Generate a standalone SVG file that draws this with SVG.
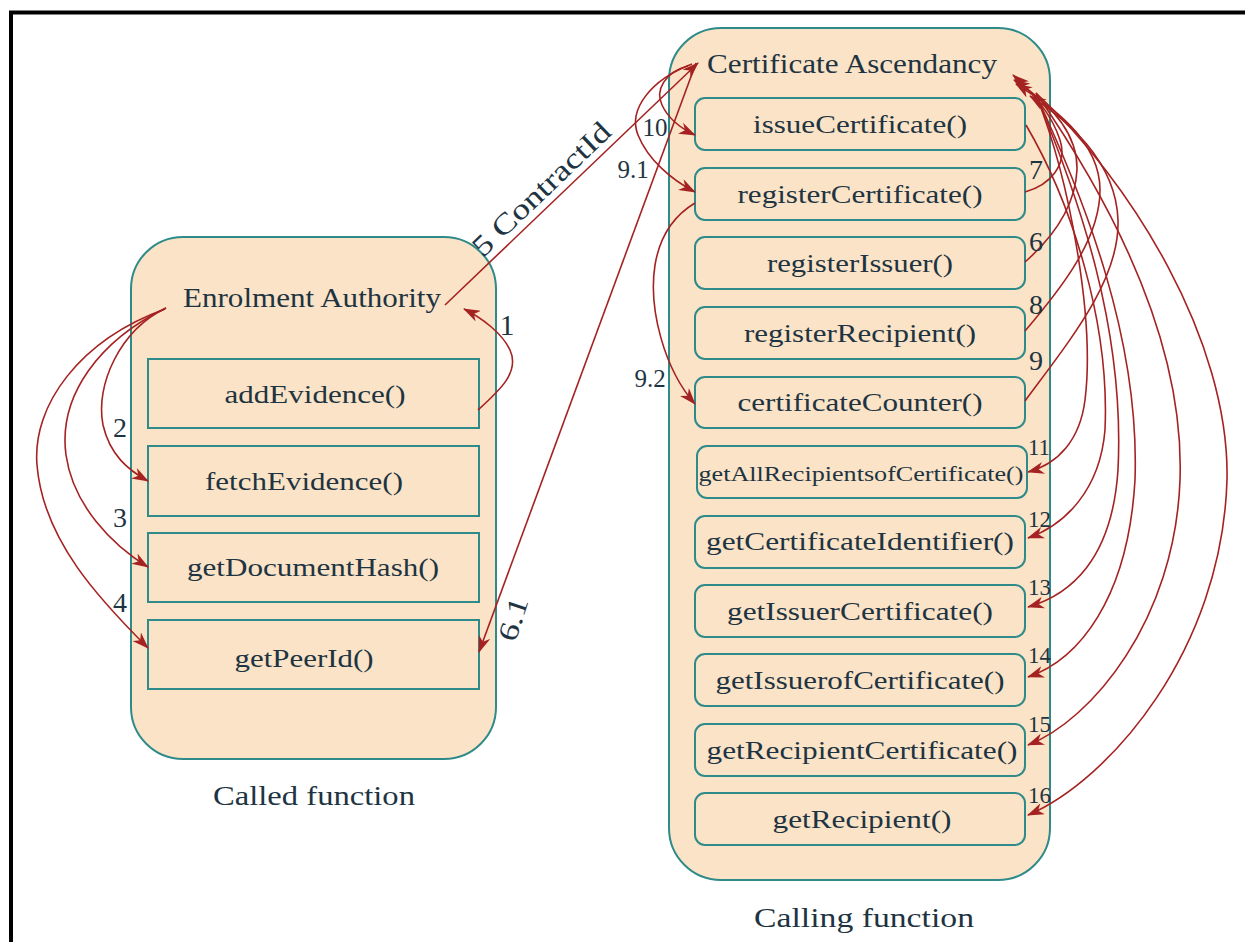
<svg xmlns="http://www.w3.org/2000/svg" width="1245" height="942" viewBox="0 0 1245 942">
<style>
.frame{fill:none;stroke:#000;stroke-width:4}
.cont{fill:#fae3c6;stroke:#2e8b89;stroke-width:2}
.box{fill:#fae3c6;stroke:#2e8b89;stroke-width:2}
.t{font-family:"Liberation Serif","Times New Roman",serif;fill:#1e3442;text-anchor:middle}
.fn{font-size:26px}
.ttl{font-size:27px}
.num{font-family:"Liberation Serif","Times New Roman",serif;fill:#1e3442;font-size:28px}
.e{fill:none;stroke:#a52222;stroke-width:1.6}
.ea{fill:none;stroke:#a52222;stroke-width:1.6;marker-end:url(#ah)}
</style>
<defs>
<marker id="ah" viewBox="0 0 17 12" refX="16" refY="6" markerWidth="17" markerHeight="12" orient="auto" markerUnits="userSpaceOnUse">
<path d="M0,0 L17,6 L0,12 L5,6 z" fill="#a52222"/>
</marker>
</defs>
<rect width="1245" height="942" fill="#fff"/>
<path class="frame" d="M11,942 V12.5 H1245"/>

<g id="enrolment-authority">
<rect class="cont" x="131" y="237" width="365" height="522" rx="52" ry="52"/>
<text class="t ttl" x="312" y="307" textLength="258" lengthAdjust="spacingAndGlyphs">Enrolment Authority</text>
</g>
<g id="addEvidence"><rect class="box" x="148" y="359" width="331" height="69"/><text class="t fn" x="315" y="403" textLength="181" lengthAdjust="spacingAndGlyphs">addEvidence()</text></g>
<g id="fetchEvidence"><rect class="box" x="148" y="446" width="331" height="70"/><text class="t fn" x="304" y="490" textLength="198" lengthAdjust="spacingAndGlyphs">fetchEvidence()</text></g>
<g id="getDocumentHash"><rect class="box" x="148" y="533" width="331" height="69"/><text class="t fn" x="313" y="576" textLength="252" lengthAdjust="spacingAndGlyphs">getDocumentHash()</text></g>
<g id="getPeerId"><rect class="box" x="148" y="620" width="331" height="69"/><text class="t fn" x="304" y="667" textLength="139" lengthAdjust="spacingAndGlyphs">getPeerId()</text></g>
<text class="t ttl" x="314" y="805" textLength="202" lengthAdjust="spacingAndGlyphs">Called function</text>

<g id="certificate-ascendancy">
<rect class="cont" x="669" y="28" width="381" height="852" rx="52" ry="52"/>
<text class="t ttl" x="852" y="73" textLength="290" lengthAdjust="spacingAndGlyphs">Certificate Ascendancy</text>
</g>
<g id="issueCertificate"><rect class="box" x="695" y="98" width="330" height="52" rx="10"/><text class="t fn" x="860" y="133" textLength="214" lengthAdjust="spacingAndGlyphs">issueCertificate()</text></g>
<g id="registerCertificate"><rect class="box" x="695" y="168" width="330" height="52" rx="10"/><text class="t fn" x="860" y="203" textLength="245" lengthAdjust="spacingAndGlyphs">registerCertificate()</text></g>
<g id="registerIssuer"><rect class="box" x="695" y="237" width="330" height="52" rx="10"/><text class="t fn" x="860" y="272" textLength="186" lengthAdjust="spacingAndGlyphs">registerIssuer()</text></g>
<g id="registerRecipient"><rect class="box" x="695" y="307" width="330" height="52" rx="10"/><text class="t fn" x="860" y="342" textLength="232" lengthAdjust="spacingAndGlyphs">registerRecipient()</text></g>
<g id="certificateCounter"><rect class="box" x="695" y="377" width="330" height="51" rx="10"/><text class="t fn" x="860" y="411" textLength="245" lengthAdjust="spacingAndGlyphs">certificateCounter()</text></g>
<g id="getAllRecipientsofCertificate"><rect class="box" x="697" y="446" width="330" height="52" rx="10"/><text class="t" style="font-size:22px" x="861" y="481" textLength="325" lengthAdjust="spacingAndGlyphs">getAllRecipientsofCertificate()</text></g>
<g id="getCertificateIdentifier"><rect class="box" x="695" y="516" width="330" height="52" rx="10"/><text class="t fn" x="860" y="550" textLength="308" lengthAdjust="spacingAndGlyphs">getCertificateIdentifier()</text></g>
<g id="getIssuerCertificate"><rect class="box" x="695" y="585" width="330" height="52" rx="10"/><text class="t fn" x="860" y="620" textLength="266" lengthAdjust="spacingAndGlyphs">getIssuerCertificate()</text></g>
<g id="getIssuerofCertificate"><rect class="box" x="695" y="654" width="330" height="52" rx="10"/><text class="t fn" x="860" y="689" textLength="289" lengthAdjust="spacingAndGlyphs">getIssuerofCertificate()</text></g>
<g id="getRecipientCertificate"><rect class="box" x="695" y="724" width="330" height="52" rx="10"/><text class="t fn" x="862" y="759" textLength="311" lengthAdjust="spacingAndGlyphs">getRecipientCertificate()</text></g>
<g id="getRecipient"><rect class="box" x="695" y="793" width="330" height="52" rx="10"/><text class="t fn" x="862" y="828" textLength="179" lengthAdjust="spacingAndGlyphs">getRecipient()</text></g>
<text class="t ttl" x="864" y="927" textLength="220" lengthAdjust="spacingAndGlyphs">Calling function</text>

<g id="connectors">
<path class="ea" d="M478,410 C500,390 520,372 510,350 C502,333 482,318 464,309"/>
<path class="ea" d="M166,308 C120,330 95,385 103,425 C110,455 128,470 148,481"/>
<path class="ea" d="M166,308 C100,340 58,395 66,455 C73,505 112,545 148,567"/>
<path class="ea" d="M165,309 C80,340 32,405 37,465 C43,540 100,600 148,648"/>
<path class="ea" d="M445,305 L698,63"/>
<path class="ea" d="M696,63 L479,652"/>
<path class="ea" d="M688,66 C665,72 655,90 662,105 C668,118 680,128 695,135"/>
<path class="ea" d="M692,64 C650,80 628,110 638,135 C648,160 672,180 695,192"/>
<path class="ea" d="M695,203 C675,215 660,235 655,265 C648,310 665,370 695,404"/>
<path class="ea" d="M1025,192 C1050,185 1068,165 1060,140 C1052,115 1035,95 1013,75"/>
<path class="ea" d="M1025,262 C1050,240 1075,210 1077,170 C1078,130 1045,100 1014,80"/>
<path class="ea" d="M1025,331 C1060,290 1100,240 1100,190 C1100,140 1050,105 1016,84"/>
<path class="ea" d="M1025,401 C1070,340 1120,280 1118,220 C1116,160 1065,118 1030,96"/>
<path class="ea" d="M1036,95 C1070,180 1095,320 1085,400 C1080,440 1058,464 1028,472"/>
<path class="ea" d="M1026,125 C1070,200 1110,320 1105,430 C1100,490 1065,525 1028,538"/>
<path class="ea" d="M1036,95 C1080,200 1125,330 1118,470 C1112,560 1070,595 1028,607"/>
<path class="ea" d="M1036,95 C1085,200 1140,340 1135,480 C1128,600 1078,660 1028,677"/>
<path class="ea" d="M1036,93 C1110,200 1185,340 1180,480 C1175,620 1092,720 1028,745"/>
<path class="ea" d="M1036,93 C1130,180 1230,340 1227,480 C1222,650 1110,780 1028,815"/>
</g>

<g id="labels">
<text class="num" x="507" y="335" text-anchor="middle" style="font-size:30px">1</text>
<text class="num" x="120" y="437" text-anchor="middle">2</text>
<text class="num" x="120" y="527" text-anchor="middle">3</text>
<text class="num" x="120" y="612" text-anchor="middle">4</text>
<text class="t" style="font-size:29px" x="548" y="196" textLength="180" lengthAdjust="spacingAndGlyphs" transform="rotate(-43.7 548 196)">5 ContractId</text>
<text class="t" style="font-size:28px" x="522" y="622" textLength="44" lengthAdjust="spacingAndGlyphs" transform="rotate(-72 522 622)">6.1</text>
<text class="num" x="655" y="136" text-anchor="middle" style="font-size:25px">10</text>
<text class="num" x="633" y="178" text-anchor="middle" style="font-size:25px">9.1</text>
<text class="num" x="650" y="387" text-anchor="middle" style="font-size:25px">9.2</text>
<text class="num" x="1029" y="179">7</text>
<text class="num" x="1029" y="251">6</text>
<text class="num" x="1029" y="314">8</text>
<text class="num" x="1029" y="370">9</text>
<text class="num" x="1028" y="455" style="font-size:24px" textLength="22" lengthAdjust="spacingAndGlyphs">11</text>
<text class="num" x="1028" y="527" style="font-size:24px" textLength="23" lengthAdjust="spacingAndGlyphs">12</text>
<text class="num" x="1028" y="595" style="font-size:24px" textLength="23" lengthAdjust="spacingAndGlyphs">13</text>
<text class="num" x="1028" y="663" style="font-size:24px" textLength="23" lengthAdjust="spacingAndGlyphs">14</text>
<text class="num" x="1028" y="732" style="font-size:24px" textLength="23" lengthAdjust="spacingAndGlyphs">15</text>
<text class="num" x="1028" y="803" style="font-size:24px" textLength="23" lengthAdjust="spacingAndGlyphs">16</text>
</g>
</svg>
